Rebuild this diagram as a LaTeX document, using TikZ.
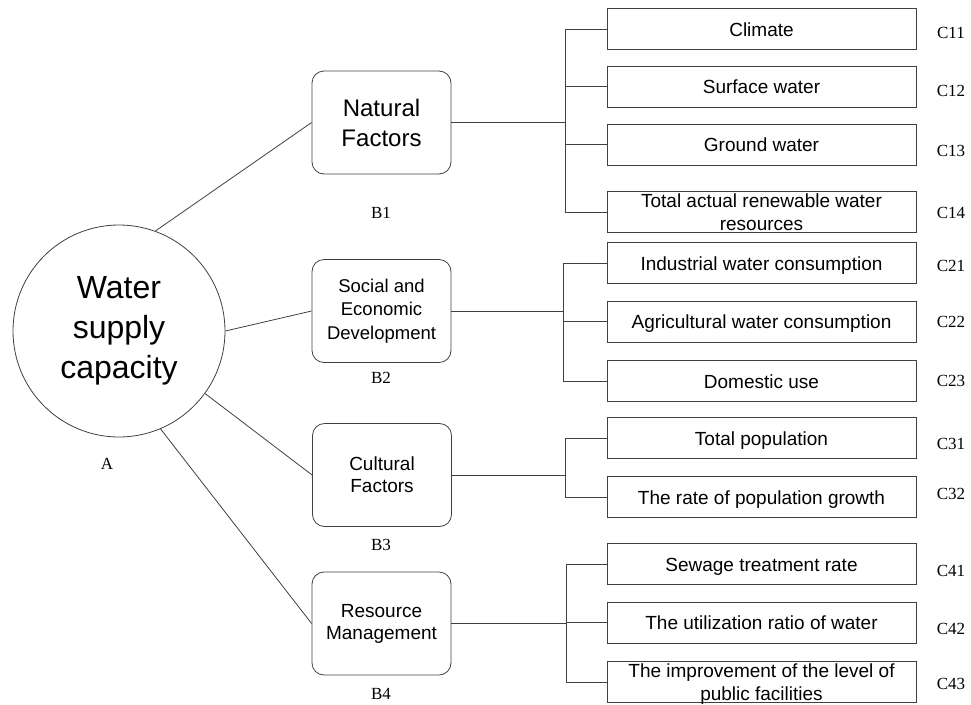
\documentclass[tikz,border=0pt]{standalone}
\usepackage{fontspec}
\setmainfont{Liberation Sans}
\newfontfamily\labfont{Liberation Serif}

\begin{document}
\begin{tikzpicture}[x=1pt, y=-1pt,
	circ/.style={circle, draw=black!75, line width=0.8pt, minimum size=212pt, inner sep=0pt, align=center, font=\fontsize{32}{40}\selectfont},
	factor/.style={rectangle, rounded corners=12pt, draw=black!75, line width=0.8pt, minimum width=139pt, minimum height=103pt, inner sep=0pt, align=center},
	cbox/.style={rectangle, draw=black!75, line width=0.8pt, minimum width=309pt, minimum height=41pt, inner sep=0pt, align=center, font=\fontsize{19}{23}\selectfont, text height=14pt, text depth=0pt},
	one/.style={},
	twoline/.style={text height=37pt},
	tag/.style={inner sep=0pt, font=\labfont\fontsize{17}{20}\selectfont, text height=11.5pt, text depth=0pt},
	link/.style={draw=black!75, line width=0.8pt}]
	\useasboundingbox (0,0) rectangle (971,704);
	% goal
	\node[circ] (A) at (119,331) {Water\\supply\\capacity};
	\node[tag] (tA) at (107,464) {A};
	% criteria
	\node[factor, font=\fontsize{24}{30}\selectfont] (B1) at (381.5,122.5) {Natural\\Factors};
	\node[factor, font=\fontsize{18.5}{23.5}\selectfont] (B2) at (381.5,311) {Social and\\Economic\\Development};
	\node[factor, font=\fontsize{19}{22}\selectfont] (B3) at (382,475) {Cultural\\Factors};
	\node[factor, font=\fontsize{19}{22}\selectfont] (B4) at (381.5,623.5) {Resource\\Management};
	\foreach \n/\y in {1/212.5, 2/377.5, 3/545, 4/694}
		\node[tag] (tB\n) at (381,\y) {B\n};
	\draw[link] (A.70) -- (B1.west);
	\draw[link] (A.0) -- (B2.west);
	\draw[link] (A.-36) -- (B3.west);
	\draw[link] (A.-67) -- (B4.west);
	% indicators
	\foreach \n/\y/\ly/\s/\t in {
		11/29/33/one/Climate,
		12/86.5/90.5/one/Surface water,
		13/144.5/150.5/one/Ground water,
		14/212/212.5/twoline/{Total actual renewable water\\resources},
		21/263/265.3/one/Industrial water consumption,
		22/321.5/322/one/Agricultural water consumption,
		23/381/380.5/one/Domestic use,
		31/438/444/one/Total population,
		32/497/494/one/The rate of population growth,
		41/564/570.5/one/Sewage treatment rate,
		42/622.5/628.8/one/The utilization ratio of water,
		43/682/683.5/twoline/{The improvement of the level of\\public facilities}} {
		\node[cbox, \s] (C\n) at (761.5,\y) {\t};
		\node[tag] (tC\n) at (951,\ly) {C\n};
	}
	% brackets
	\coordinate (j1) at (565,0);
	\coordinate (j2) at (563,0);
	\coordinate (j3) at (565,0);
	\coordinate (j4) at (566,0);
	\draw[link] (B1.east) -- (B1.east -| j1);
	\draw[link] (C11.west -| j1) -- (C14.west -| j1);
	\foreach \n in {11,12,13,14}
		\draw[link] (C\n.west) -- (C\n.west -| j1);
	\draw[link] (B2.east) -- (B2.east -| j2);
	\draw[link] (C21.west -| j2) -- (C23.west -| j2);
	\foreach \n in {21,22,23}
		\draw[link] (C\n.west) -- (C\n.west -| j2);
	\draw[link] (B3.east) -- (B3.east -| j3);
	\draw[link] (C31.west -| j3) -- (C32.west -| j3);
	\foreach \n in {31,32}
		\draw[link] (C\n.west) -- (C\n.west -| j3);
	\draw[link] (B4.east) -- (B4.east -| j4);
	\draw[link] (C41.west -| j4) -- (C43.west -| j4);
	\foreach \n in {41,42,43}
		\draw[link] (C\n.west) -- (C\n.west -| j4);
\end{tikzpicture}
\end{document}
